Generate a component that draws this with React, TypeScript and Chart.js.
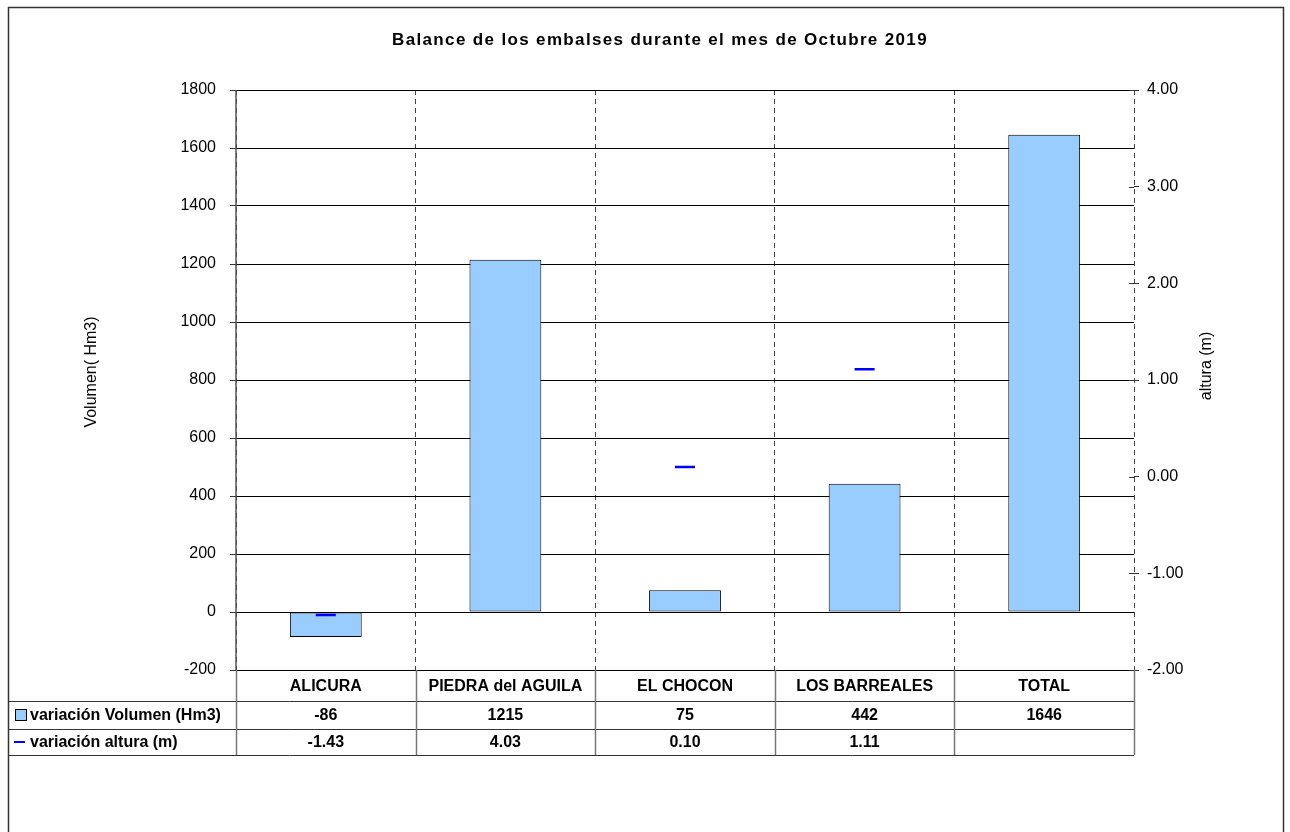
import React, { useEffect, useRef } from "react";
import { Chart, registerables } from "chart.js";

Chart.register(...registerables);

const chartTitle = "Balance de los embalses durante el mes de Octubre 2019";
const leftAxisTitle = "Volumen( Hm3)";
const rightAxisTitle = "altura (m)";
const categories = ["ALICURA", "PIEDRA del AGUILA", "EL CHOCON", "LOS BARREALES", "TOTAL"];
const volumenName = "variación Volumen (Hm3)";
const alturaName = "variación altura (m)";
const volumen = [-86, 1215, 75, 442, 1646];
const altura: (number | null)[] = [-1.43, 4.03, 0.1, 1.11, null];
const volumenLabels = ["-86", "1215", "75", "442", "1646"];
const alturaLabels = ["-1.43", "4.03", "0.10", "1.11", ""];

const FONT = "Arial, 'Liberation Sans', sans-serif";
const BAR_FILL = "#99CCFF";
const LINE_COLOR = "#0000FF";

const W = 1290;
const H = 832;

const decorPlugin = {
  id: "decor",
  afterDraw(chart: any) {
    const { ctx, chartArea: ca, scales } = chart;
    const x = scales.x;
    ctx.save();
    ctx.fillStyle = "#000";
    ctx.textAlign = "center";
    ctx.textBaseline = "middle";

    // Title
    ctx.font = `bold 17px ${FONT}`;
    (ctx as any).letterSpacing = "1.35px";
    ctx.fillText(chartTitle, 660, 40);
    (ctx as any).letterSpacing = "0px";

    // Axis titles
    ctx.font = `16px ${FONT}`;
    ctx.save();
    ctx.translate(92, 372);
    ctx.rotate(-Math.PI / 2);
    ctx.fillText(leftAxisTitle, 0, 0);
    ctx.restore();
    ctx.save();
    ctx.translate(1207, 366);
    ctx.rotate(-Math.PI / 2);
    ctx.fillText(rightAxisTitle, 0, 0);
    ctx.restore();

    // Data table
    const n = categories.length;
    const half = (x.getPixelForValue(1) - x.getPixelForValue(0)) / 2;
    const rows = [ca.bottom, ca.bottom + 31, ca.bottom + 59, ca.bottom + 85];
    const leftEdge = 8;

    ctx.strokeStyle = "#333";
    ctx.lineWidth = 1;
    for (let r = 1; r < rows.length; r++) {
      ctx.beginPath();
      ctx.moveTo(leftEdge, rows[r] + 0.5);
      ctx.lineTo(ca.right, rows[r] + 0.5);
      ctx.stroke();
    }
    ctx.strokeStyle = "#777";
    ctx.lineWidth = 1.5;
    for (let i = 0; i <= n; i++) {
      const px = Math.round(x.getPixelForValue(i) - half) + 0.5;
      ctx.beginPath();
      ctx.moveTo(px, rows[0]);
      ctx.lineTo(px, rows[3]);
      ctx.stroke();
    }

    ctx.font = `bold 16px ${FONT}`;
    const mid1 = (rows[0] + rows[1]) / 2 + 1;
    const mid2 = (rows[1] + rows[2]) / 2 + 1;
    const mid3 = (rows[2] + rows[3]) / 2 + 1;
    for (let i = 0; i < n; i++) {
      const cx = x.getPixelForValue(i);
      ctx.fillText(categories[i], cx, mid1);
      ctx.fillText(volumenLabels[i], cx, mid2);
      ctx.fillText(alturaLabels[i], cx, mid3);
    }

    // legend keys
    ctx.textAlign = "left";
    ctx.fillText(volumenName, 30, mid2);
    ctx.fillText(alturaName, 30, mid3);
    ctx.fillStyle = BAR_FILL;
    ctx.fillRect(15.5, mid2 - 6.5, 11, 11);
    ctx.strokeStyle = "#000";
    ctx.lineWidth = 1;
    ctx.strokeRect(15.5, mid2 - 6.5, 11, 11);
    ctx.strokeStyle = LINE_COLOR;
    ctx.lineWidth = 2;
    ctx.beginPath();
    ctx.moveTo(14, mid3 - 1);
    ctx.lineTo(25, mid3 - 1);
    ctx.stroke();

    // right axis cross ticks
    const y1 = scales.y1;
    ctx.strokeStyle = "#333";
    ctx.lineWidth = 1;
    y1.ticks.forEach((t: any) => {
      const py = Math.round(y1.getPixelForValue(t.value)) + 0.5;
      ctx.beginPath();
      ctx.moveTo(ca.right - 5, py);
      ctx.lineTo(ca.right, py);
      ctx.stroke();
    });

    // left axis line (solid)
    ctx.strokeStyle = "#555";
    ctx.lineWidth = 1.5;
    ctx.beginPath();
    ctx.moveTo(ca.left, ca.top);
    ctx.lineTo(ca.left, ca.bottom);
    ctx.stroke();

    // outer border
    ctx.strokeStyle = "#333";
    ctx.lineWidth = 1.5;
    ctx.strokeRect(8.5, 7.5, 1275, 840);
    ctx.restore();
  },
};

export default function App() {
  const ref = useRef<HTMLCanvasElement | null>(null);

  useEffect(() => {
    if (!ref.current) return;
    const chart = new Chart(ref.current, {
      type: "bar",
      data: {
        labels: categories,
        datasets: [
          {
            type: "line",
            label: alturaName,
            data: altura,
            yAxisID: "y1",
            showLine: false,
            pointStyle: "line",
            pointRadius: 10,
            pointHoverRadius: 10,
            borderColor: LINE_COLOR,
            backgroundColor: LINE_COLOR,
            borderWidth: 2.5,
            order: 0,
          } as any,
          {
            type: "bar",
            label: volumenName,
            data: volumen,
            yAxisID: "y",
            backgroundColor: BAR_FILL,
            borderColor: "#000",
            borderWidth: 1,
            borderSkipped: false,
            categoryPercentage: 1,
            barPercentage: 0.4,
            order: 1,
          },
        ],
      },
      options: {
        responsive: false,
        animation: false,
        layout: { padding: { top: 90, bottom: H - 701, left: 0, right: 0 } },
        plugins: {
          legend: { display: false },
          title: { display: false },
          tooltip: { enabled: false },
        },
        scales: {
          x: {
            position: "bottom",
            offset: true,
            grid: {
              display: true,
              offset: true,
              color: "#444",
              lineWidth: 1,
              drawTicks: false,
            },
            border: { display: true, color: "#000", width: 1, dash: [5, 4] },
            ticks: { display: false },
            afterFit: (s: any) => {
              s.height = 31;
            },
          },
          y: {
            position: "left",
            min: -200,
            max: 1800,
            ticks: {
              stepSize: 200,
              color: "#000",
              font: { family: FONT, size: 16 },
              padding: 14,
              callback: (v: any) => String(v),
            },
            grid: {
              color: "#000",
              lineWidth: 1,
              drawTicks: true,
              tickLength: 6,
              tickColor: "#333",
            },
            border: { display: false },
            afterFit: (s: any) => {
              s.width = 236;
            },
          },
          y1: {
            position: "right",
            min: -2,
            max: 4,
            ticks: {
              stepSize: 1,
              color: "#000",
              font: { family: FONT, size: 16 },
              padding: 8,
              callback: (v: any) => Number(v).toFixed(2),
            },
            grid: {
              drawOnChartArea: false,
              drawTicks: true,
              tickLength: 5,
              tickColor: "#333",
            },
            border: { display: false },
            afterFit: (s: any) => {
              s.width = W - 1134;
            },
          },
        },
      },
      plugins: [decorPlugin],
    });
    return () => chart.destroy();
  }, []);

  return (
    <div style={{ position: "absolute", left: 0, top: 0, width: W, height: H, background: "#fff" }}>
      <canvas ref={ref} width={W} height={H} style={{ display: "block" }} />
    </div>
  );
}
